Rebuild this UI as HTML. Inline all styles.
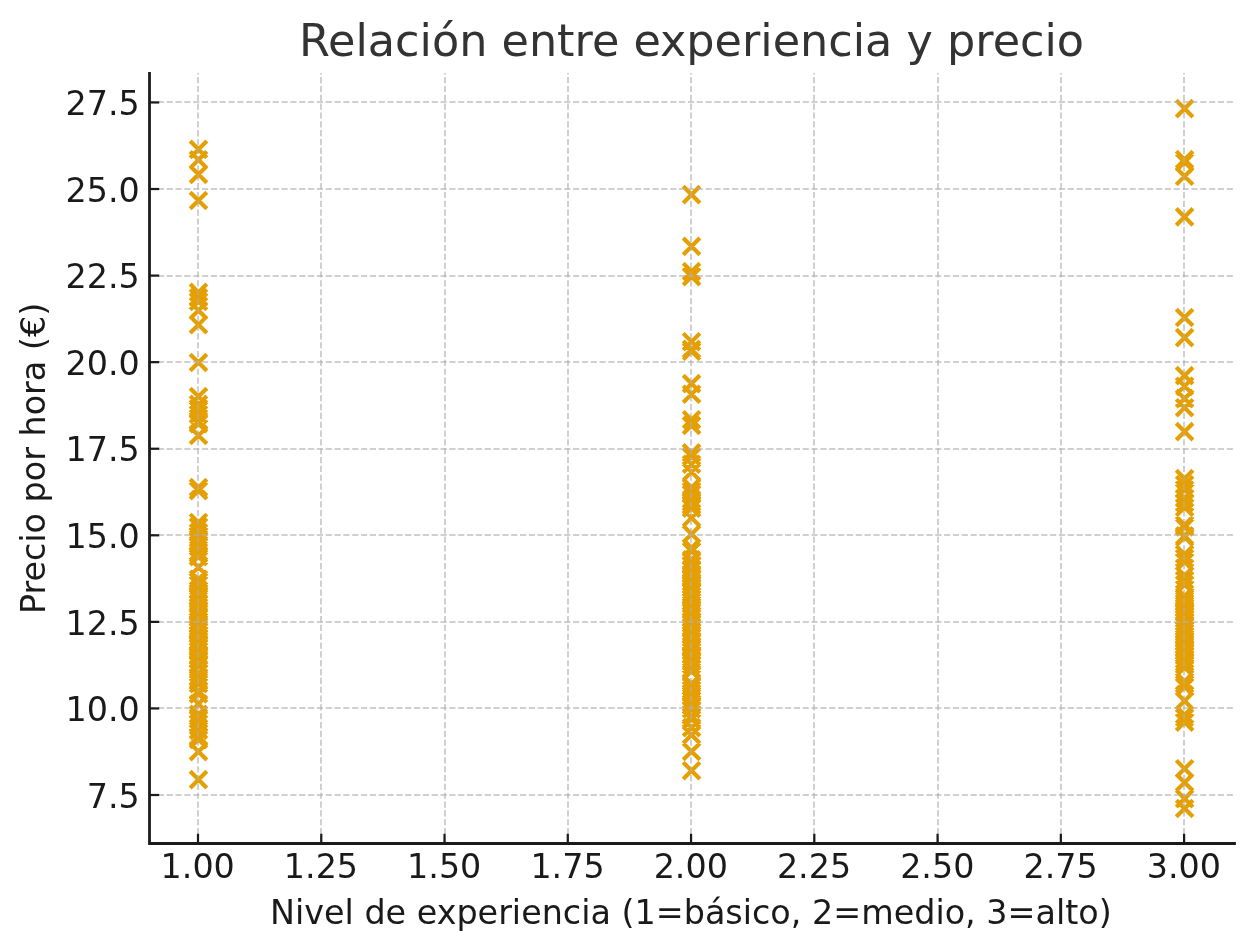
<!DOCTYPE html>
<html lang="es"><head><meta charset="utf-8"><title>Relación entre experiencia y precio</title>
<style>
html,body{margin:0;padding:0;background:#fff;}
body{width:1253px;height:951px;overflow:hidden;}
svg{display:block;}
text{font-family:"DejaVu Sans","Liberation Sans",sans-serif;}
.tk{font-size:33.33px;fill:#1a1a1a;}
.lb{font-size:33.39px;fill:#1a1a1a;}
.ti{font-size:44.53px;fill:#333;}
</style></head><body>
<svg width="1253" height="951" viewBox="0 0 1253 951">
<rect width="1253" height="951" fill="#fff"/>

<g fill="none" stroke="#E69F00" stroke-width="4.17">
<path d="M190.17 141.07l16.66 16.66m-16.66 0l16.66-16.66M190.17 151.47l16.66 16.66m-16.66 0l16.66-16.66M190.17 166.07l16.66 16.66m-16.66 0l16.66-16.66M190.17 192.17l16.66 16.66m-16.66 0l16.66-16.66M190.17 283.97l16.66 16.66m-16.66 0l16.66-16.66M190.17 289.37l16.66 16.66m-16.66 0l16.66-16.66M190.17 293.17l16.66 16.66m-16.66 0l16.66-16.66M190.17 302.17l16.66 16.66m-16.66 0l16.66-16.66M190.17 316.37l16.66 16.66m-16.66 0l16.66-16.66M190.17 354.17l16.66 16.66m-16.66 0l16.66-16.66M190.17 388.17l16.66 16.66m-16.66 0l16.66-16.66M190.17 395.97l16.66 16.66m-16.66 0l16.66-16.66M190.17 399.97l16.66 16.66m-16.66 0l16.66-16.66M190.17 406.07l16.66 16.66m-16.66 0l16.66-16.66M190.17 412.17l16.66 16.66m-16.66 0l16.66-16.66M190.17 415.27l16.66 16.66m-16.66 0l16.66-16.66M190.17 427.17l16.66 16.66m-16.66 0l16.66-16.66M190.17 479.17l16.66 16.66m-16.66 0l16.66-16.66M190.17 482.27l16.66 16.66m-16.66 0l16.66-16.66M190.17 514.12l16.66 16.66m-16.66 0l16.66-16.66M190.17 518.47l16.66 16.66m-16.66 0l16.66-16.66M190.17 524.17l16.66 16.66m-16.66 0l16.66-16.66M190.17 527.17l16.66 16.66m-16.66 0l16.66-16.66M190.17 530.17l16.66 16.66m-16.66 0l16.66-16.66M190.17 532.97l16.66 16.66m-16.66 0l16.66-16.66M190.17 536.17l16.66 16.66m-16.66 0l16.66-16.66M190.17 538.27l16.66 16.66m-16.66 0l16.66-16.66M190.17 543.67l16.66 16.66m-16.66 0l16.66-16.66M190.17 548.37l16.66 16.66m-16.66 0l16.66-16.66M190.17 558.97l16.66 16.66m-16.66 0l16.66-16.66M190.17 570.87l16.66 16.66m-16.66 0l16.66-16.66M190.17 573.27l16.66 16.66m-16.66 0l16.66-16.66M190.17 576.17l16.66 16.66m-16.66 0l16.66-16.66M190.17 581.97l16.66 16.66m-16.66 0l16.66-16.66M190.17 585.17l16.66 16.66m-16.66 0l16.66-16.66M190.17 588.17l16.66 16.66m-16.66 0l16.66-16.66M190.17 591.47l16.66 16.66m-16.66 0l16.66-16.66M190.17 594.87l16.66 16.66m-16.66 0l16.66-16.66M190.17 601.47l16.66 16.66m-16.66 0l16.66-16.66M190.17 603.27l16.66 16.66m-16.66 0l16.66-16.66M190.17 607.67l16.66 16.66m-16.66 0l16.66-16.66M190.17 609.67l16.66 16.66m-16.66 0l16.66-16.66M190.17 613.07l16.66 16.66m-16.66 0l16.66-16.66M190.17 616.37l16.66 16.66m-16.66 0l16.66-16.66M190.17 618.17l16.66 16.66m-16.66 0l16.66-16.66M190.17 620.87l16.66 16.66m-16.66 0l16.66-16.66M190.17 622.77l16.66 16.66m-16.66 0l16.66-16.66M190.17 625.97l16.66 16.66m-16.66 0l16.66-16.66M190.17 629.17l16.66 16.66m-16.66 0l16.66-16.66M190.17 632.37l16.66 16.66m-16.66 0l16.66-16.66M190.17 635.47l16.66 16.66m-16.66 0l16.66-16.66M190.17 637.27l16.66 16.66m-16.66 0l16.66-16.66M190.17 639.37l16.66 16.66m-16.66 0l16.66-16.66M190.17 642.67l16.66 16.66m-16.66 0l16.66-16.66M190.17 646.77l16.66 16.66m-16.66 0l16.66-16.66M190.17 647.97l16.66 16.66m-16.66 0l16.66-16.66M190.17 651.27l16.66 16.66m-16.66 0l16.66-16.66M190.17 655.17l16.66 16.66m-16.66 0l16.66-16.66M190.17 656.97l16.66 16.66m-16.66 0l16.66-16.66M190.17 664.57l16.66 16.66m-16.66 0l16.66-16.66M190.17 668.67l16.66 16.66m-16.66 0l16.66-16.66M190.17 672.97l16.66 16.66m-16.66 0l16.66-16.66M190.17 675.32l16.66 16.66m-16.66 0l16.66-16.66M190.17 682.87l16.66 16.66m-16.66 0l16.66-16.66M190.17 685.52l16.66 16.66m-16.66 0l16.66-16.66M190.17 695.62l16.66 16.66m-16.66 0l16.66-16.66M190.17 706.07l16.66 16.66m-16.66 0l16.66-16.66M190.17 711.17l16.66 16.66m-16.66 0l16.66-16.66M190.17 715.17l16.66 16.66m-16.66 0l16.66-16.66M190.17 721.87l16.66 16.66m-16.66 0l16.66-16.66M190.17 728.17l16.66 16.66m-16.66 0l16.66-16.66M190.17 731.17l16.66 16.66m-16.66 0l16.66-16.66M190.17 743.27l16.66 16.66m-16.66 0l16.66-16.66M190.17 771.27l16.66 16.66m-16.66 0l16.66-16.66"/>
<path d="M683.22 186.27l16.66 16.66m-16.66 0l16.66-16.66M683.22 238.07l16.66 16.66m-16.66 0l16.66-16.66M683.22 263.17l16.66 16.66m-16.66 0l16.66-16.66M683.22 268.27l16.66 16.66m-16.66 0l16.66-16.66M683.22 333.37l16.66 16.66m-16.66 0l16.66-16.66M683.22 341.07l16.66 16.66m-16.66 0l16.66-16.66M683.22 342.97l16.66 16.66m-16.66 0l16.66-16.66M683.22 375.27l16.66 16.66m-16.66 0l16.66-16.66M683.22 385.87l16.66 16.66m-16.66 0l16.66-16.66M683.22 411.37l16.66 16.66m-16.66 0l16.66-16.66M683.22 417.17l16.66 16.66m-16.66 0l16.66-16.66M683.22 444.57l16.66 16.66m-16.66 0l16.66-16.66M683.22 448.17l16.66 16.66m-16.66 0l16.66-16.66M683.22 455.87l16.66 16.66m-16.66 0l16.66-16.66M683.22 463.72l16.66 16.66m-16.66 0l16.66-16.66M683.22 479.27l16.66 16.66m-16.66 0l16.66-16.66M683.22 482.67l16.66 16.66m-16.66 0l16.66-16.66M683.22 485.67l16.66 16.66m-16.66 0l16.66-16.66M683.22 491.17l16.66 16.66m-16.66 0l16.66-16.66M683.22 494.17l16.66 16.66m-16.66 0l16.66-16.66M683.22 497.17l16.66 16.66m-16.66 0l16.66-16.66M683.22 499.87l16.66 16.66m-16.66 0l16.66-16.66M683.22 509.47l16.66 16.66m-16.66 0l16.66-16.66M683.22 525.67l16.66 16.66m-16.66 0l16.66-16.66M683.22 539.47l16.66 16.66m-16.66 0l16.66-16.66M683.22 542.77l16.66 16.66m-16.66 0l16.66-16.66M683.22 551.57l16.66 16.66m-16.66 0l16.66-16.66M683.22 553.27l16.66 16.66m-16.66 0l16.66-16.66M683.22 557.37l16.66 16.66m-16.66 0l16.66-16.66M683.22 560.87l16.66 16.66m-16.66 0l16.66-16.66M683.22 562.07l16.66 16.66m-16.66 0l16.66-16.66M683.22 565.57l16.66 16.66m-16.66 0l16.66-16.66M683.22 569.17l16.66 16.66m-16.66 0l16.66-16.66M683.22 570.27l16.66 16.66m-16.66 0l16.66-16.66M683.22 573.87l16.66 16.66m-16.66 0l16.66-16.66M683.22 577.17l16.66 16.66m-16.66 0l16.66-16.66M683.22 579.77l16.66 16.66m-16.66 0l16.66-16.66M683.22 582.07l16.66 16.66m-16.66 0l16.66-16.66M683.22 584.27l16.66 16.66m-16.66 0l16.66-16.66M683.22 587.67l16.66 16.66m-16.66 0l16.66-16.66M683.22 590.17l16.66 16.66m-16.66 0l16.66-16.66M683.22 593.27l16.66 16.66m-16.66 0l16.66-16.66M683.22 595.77l16.66 16.66m-16.66 0l16.66-16.66M683.22 599.57l16.66 16.66m-16.66 0l16.66-16.66M683.22 602.17l16.66 16.66m-16.66 0l16.66-16.66M683.22 603.97l16.66 16.66m-16.66 0l16.66-16.66M683.22 607.37l16.66 16.66m-16.66 0l16.66-16.66M683.22 609.47l16.66 16.66m-16.66 0l16.66-16.66M683.22 612.67l16.66 16.66m-16.66 0l16.66-16.66M683.22 615.17l16.66 16.66m-16.66 0l16.66-16.66M683.22 618.67l16.66 16.66m-16.66 0l16.66-16.66M683.22 620.77l16.66 16.66m-16.66 0l16.66-16.66M683.22 623.77l16.66 16.66m-16.66 0l16.66-16.66M683.22 627.07l16.66 16.66m-16.66 0l16.66-16.66M683.22 629.17l16.66 16.66m-16.66 0l16.66-16.66M683.22 633.07l16.66 16.66m-16.66 0l16.66-16.66M683.22 634.27l16.66 16.66m-16.66 0l16.66-16.66M683.22 638.27l16.66 16.66m-16.66 0l16.66-16.66M683.22 640.37l16.66 16.66m-16.66 0l16.66-16.66M683.22 643.17l16.66 16.66m-16.66 0l16.66-16.66M683.22 646.37l16.66 16.66m-16.66 0l16.66-16.66M683.22 648.97l16.66 16.66m-16.66 0l16.66-16.66M683.22 651.47l16.66 16.66m-16.66 0l16.66-16.66M683.22 653.37l16.66 16.66m-16.66 0l16.66-16.66M683.22 656.27l16.66 16.66m-16.66 0l16.66-16.66M683.22 660.47l16.66 16.66m-16.66 0l16.66-16.66M683.22 662.77l16.66 16.66m-16.66 0l16.66-16.66M683.22 675.37l16.66 16.66m-16.66 0l16.66-16.66M683.22 678.27l16.66 16.66m-16.66 0l16.66-16.66M683.22 681.47l16.66 16.66m-16.66 0l16.66-16.66M683.22 684.77l16.66 16.66m-16.66 0l16.66-16.66M683.22 686.97l16.66 16.66m-16.66 0l16.66-16.66M683.22 688.47l16.66 16.66m-16.66 0l16.66-16.66M683.22 691.77l16.66 16.66m-16.66 0l16.66-16.66M683.22 695.27l16.66 16.66m-16.66 0l16.66-16.66M683.22 697.27l16.66 16.66m-16.66 0l16.66-16.66M683.22 700.67l16.66 16.66m-16.66 0l16.66-16.66M683.22 707.57l16.66 16.66m-16.66 0l16.66-16.66M683.22 710.57l16.66 16.66m-16.66 0l16.66-16.66M683.22 719.27l16.66 16.66m-16.66 0l16.66-16.66M683.22 726.57l16.66 16.66m-16.66 0l16.66-16.66M683.22 743.17l16.66 16.66m-16.66 0l16.66-16.66M683.22 762.37l16.66 16.66m-16.66 0l16.66-16.66"/>
<path d="M1176.27 100.27l16.66 16.66m-16.66 0l16.66-16.66M1176.27 151.27l16.66 16.66m-16.66 0l16.66-16.66M1176.27 153.87l16.66 16.66m-16.66 0l16.66-16.66M1176.27 167.97l16.66 16.66m-16.66 0l16.66-16.66M1176.27 208.52l16.66 16.66m-16.66 0l16.66-16.66M1176.27 309.17l16.66 16.66m-16.66 0l16.66-16.66M1176.27 329.27l16.66 16.66m-16.66 0l16.66-16.66M1176.27 367.27l16.66 16.66m-16.66 0l16.66-16.66M1176.27 377.87l16.66 16.66m-16.66 0l16.66-16.66M1176.27 390.27l16.66 16.66m-16.66 0l16.66-16.66M1176.27 399.37l16.66 16.66m-16.66 0l16.66-16.66M1176.27 423.27l16.66 16.66m-16.66 0l16.66-16.66M1176.27 470.27l16.66 16.66m-16.66 0l16.66-16.66M1176.27 476.37l16.66 16.66m-16.66 0l16.66-16.66M1176.27 481.17l16.66 16.66m-16.66 0l16.66-16.66M1176.27 489.87l16.66 16.66m-16.66 0l16.66-16.66M1176.27 494.27l16.66 16.66m-16.66 0l16.66-16.66M1176.27 499.17l16.66 16.66m-16.66 0l16.66-16.66M1176.27 516.47l16.66 16.66m-16.66 0l16.66-16.66M1176.27 518.67l16.66 16.66m-16.66 0l16.66-16.66M1176.27 527.47l16.66 16.66m-16.66 0l16.66-16.66M1176.27 528.87l16.66 16.66m-16.66 0l16.66-16.66M1176.27 546.07l16.66 16.66m-16.66 0l16.66-16.66M1176.27 549.87l16.66 16.66m-16.66 0l16.66-16.66M1176.27 553.62l16.66 16.66m-16.66 0l16.66-16.66M1176.27 567.12l16.66 16.66m-16.66 0l16.66-16.66M1176.27 571.87l16.66 16.66m-16.66 0l16.66-16.66M1176.27 576.37l16.66 16.66m-16.66 0l16.66-16.66M1176.27 587.77l16.66 16.66m-16.66 0l16.66-16.66M1176.27 591.67l16.66 16.66m-16.66 0l16.66-16.66M1176.27 594.47l16.66 16.66m-16.66 0l16.66-16.66M1176.27 597.07l16.66 16.66m-16.66 0l16.66-16.66M1176.27 599.17l16.66 16.66m-16.66 0l16.66-16.66M1176.27 602.77l16.66 16.66m-16.66 0l16.66-16.66M1176.27 604.07l16.66 16.66m-16.66 0l16.66-16.66M1176.27 607.37l16.66 16.66m-16.66 0l16.66-16.66M1176.27 610.57l16.66 16.66m-16.66 0l16.66-16.66M1176.27 613.97l16.66 16.66m-16.66 0l16.66-16.66M1176.27 616.27l16.66 16.66m-16.66 0l16.66-16.66M1176.27 618.37l16.66 16.66m-16.66 0l16.66-16.66M1176.27 621.67l16.66 16.66m-16.66 0l16.66-16.66M1176.27 624.47l16.66 16.66m-16.66 0l16.66-16.66M1176.27 627.27l16.66 16.66m-16.66 0l16.66-16.66M1176.27 629.87l16.66 16.66m-16.66 0l16.66-16.66M1176.27 633.27l16.66 16.66m-16.66 0l16.66-16.66M1176.27 636.17l16.66 16.66m-16.66 0l16.66-16.66M1176.27 639.77l16.66 16.66m-16.66 0l16.66-16.66M1176.27 642.67l16.66 16.66m-16.66 0l16.66-16.66M1176.27 644.97l16.66 16.66m-16.66 0l16.66-16.66M1176.27 647.67l16.66 16.66m-16.66 0l16.66-16.66M1176.27 651.17l16.66 16.66m-16.66 0l16.66-16.66M1176.27 654.27l16.66 16.66m-16.66 0l16.66-16.66M1176.27 656.67l16.66 16.66m-16.66 0l16.66-16.66M1176.27 659.17l16.66 16.66m-16.66 0l16.66-16.66M1176.27 673.07l16.66 16.66m-16.66 0l16.66-16.66M1176.27 675.87l16.66 16.66m-16.66 0l16.66-16.66M1176.27 678.52l16.66 16.66m-16.66 0l16.66-16.66M1176.27 692.57l16.66 16.66m-16.66 0l16.66-16.66M1176.27 706.52l16.66 16.66m-16.66 0l16.66-16.66M1176.27 709.17l16.66 16.66m-16.66 0l16.66-16.66M1176.27 713.87l16.66 16.66m-16.66 0l16.66-16.66M1176.27 760.37l16.66 16.66m-16.66 0l16.66-16.66M1176.27 774.17l16.66 16.66m-16.66 0l16.66-16.66M1176.27 790.27l16.66 16.66m-16.66 0l16.66-16.66M1176.27 800.17l16.66 16.66m-16.66 0l16.66-16.66"/>
</g>
<g stroke="#b0b0b0" stroke-opacity="0.6" stroke-width="2" stroke-dasharray="6.167 2.667" fill="none">
<path d="M198 843V73"/>
<path d="M321 843V73"/>
<path d="M445 843V73"/>
<path d="M568 843V73"/>
<path d="M691 843V73"/>
<path d="M814 843V73"/>
<path d="M938 843V73"/>
<path d="M1061 843V73"/>
<path d="M1184 843V73"/>
<path d="M149 795H1234"/>
<path d="M149 708H1234"/>
<path d="M149 622H1234"/>
<path d="M149 535H1234"/>
<path d="M149 449H1234"/>
<path d="M149 362H1234"/>
<path d="M149 276H1234"/>
<path d="M149 189H1234"/>
<path d="M149 102H1234"/>
</g>
<g stroke="#1a1a1a" stroke-width="2.22" fill="none">
<path d="M198.00 843.5v-9.72"/>
<path d="M321.26 843.5v-9.72"/>
<path d="M444.52 843.5v-9.72"/>
<path d="M567.79 843.5v-9.72"/>
<path d="M691.05 843.5v-9.72"/>
<path d="M814.31 843.5v-9.72"/>
<path d="M937.58 843.5v-9.72"/>
<path d="M1060.84 843.5v-9.72"/>
<path d="M1184.10 843.5v-9.72"/>
<path d="M149.5 795.01h9.72"/>
<path d="M149.5 708.44h9.72"/>
<path d="M149.5 621.87h9.72"/>
<path d="M149.5 535.30h9.72"/>
<path d="M149.5 448.73h9.72"/>
<path d="M149.5 362.16h9.72"/>
<path d="M149.5 275.59h9.72"/>
<path d="M149.5 189.02h9.72"/>
<path d="M149.5 102.45h9.72"/>
</g>
<path d="M149.5 73.46V843.5H1234.5" fill="none" stroke="#1a1a1a" stroke-width="2.78" stroke-linecap="square" stroke-linejoin="miter"/>
<text class="tk" x="197.70" y="878.4" text-anchor="middle">1.00</text>
<text class="tk" x="320.96" y="878.4" text-anchor="middle">1.25</text>
<text class="tk" x="444.22" y="878.4" text-anchor="middle">1.50</text>
<text class="tk" x="567.49" y="878.4" text-anchor="middle">1.75</text>
<text class="tk" x="690.75" y="878.4" text-anchor="middle">2.00</text>
<text class="tk" x="814.01" y="878.4" text-anchor="middle">2.25</text>
<text class="tk" x="937.28" y="878.4" text-anchor="middle">2.50</text>
<text class="tk" x="1060.54" y="878.4" text-anchor="middle">2.75</text>
<text class="tk" x="1183.80" y="878.4" text-anchor="middle">3.00</text>
<text class="tk" x="139.8" y="807.71" text-anchor="end">7.5</text>
<text class="tk" x="139.8" y="721.14" text-anchor="end">10.0</text>
<text class="tk" x="139.8" y="634.57" text-anchor="end">12.5</text>
<text class="tk" x="139.8" y="548.00" text-anchor="end">15.0</text>
<text class="tk" x="139.8" y="461.43" text-anchor="end">17.5</text>
<text class="tk" x="139.8" y="374.86" text-anchor="end">20.0</text>
<text class="tk" x="139.8" y="288.29" text-anchor="end">22.5</text>
<text class="tk" x="139.8" y="201.72" text-anchor="end">25.0</text>
<text class="tk" x="139.8" y="115.15" text-anchor="end">27.5</text>
<text class="lb" x="690.9" y="924" text-anchor="middle">Nivel de experiencia (1=básico, 2=medio, 3=alto)</text>
<text class="lb" transform="translate(45.4 458.48) rotate(-90)" text-anchor="middle">Precio por hora (€)</text>
<text class="ti" x="691.6" y="56" text-anchor="middle">Relación entre experiencia y precio</text>
</svg></body></html>
